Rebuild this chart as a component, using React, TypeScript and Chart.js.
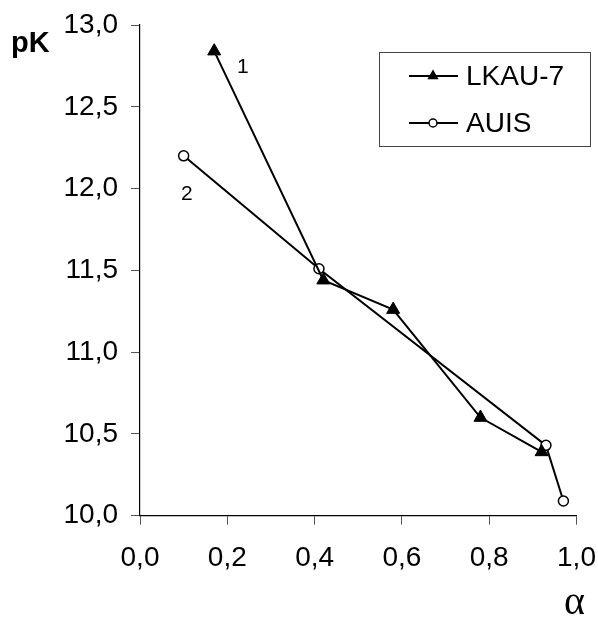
import React, { useEffect, useRef } from "react";
import { Chart, registerables } from "chart.js";

Chart.register(...registerables);

const lkauAlpha = [0.17, 0.42, 0.58, 0.78, 0.92];
const lkauPK = [12.84, 11.44, 11.26, 10.6, 10.39];
const auisAlpha = [0.1, 0.41, 0.93, 0.97];
const auisPK = [12.2, 11.51, 10.43, 10.09];
const xTickValues = [0, 0.2, 0.4, 0.6, 0.8, 1.0];
const seriesNames = ["LKAU-7", "AUIS"];
const curveLabels = ["1", "2"];
const xTitle = "α";
const yTitle = "pK";

const FONT = "'Liberation Sans', Arial, sans-serif";

const fmt = (v: number) => Number(v).toFixed(1).replace(".", ",");

const zeroPad = (s: any) => {
  s.paddingTop = 0;
  s.paddingBottom = 0;
  s.paddingLeft = 0;
  s.paddingRight = 0;
};

const overlayPlugin = {
  id: "overlay",
  afterDraw(chart: any) {
    const ctx = chart.ctx;
    ctx.save();
    ctx.fillStyle = "#000";
    ctx.textBaseline = "alphabetic";
    ctx.textAlign = "left";
    ctx.font = `bold 29px ${FONT}`;
    ctx.fillText(yTitle, 11, 52);
    ctx.font = `40px 'Liberation Serif', 'Times New Roman', serif`;
    ctx.fillText(xTitle, 564, 614);
    ctx.font = `21px ${FONT}`;
    ctx.fillText(curveLabels[0], 237, 73);
    ctx.fillText(curveLabels[1], 181, 200);
    // Legend
    ctx.strokeStyle = "#444";
    ctx.lineWidth = 1;
    ctx.strokeRect(379.5, 52.5, 211, 94);
    const rows = [76, 123];
    chart.data.datasets.forEach((ds: any, i: number) => {
      const y = rows[i];
      ctx.strokeStyle = "#000";
      ctx.lineWidth = 2;
      ctx.beginPath();
      ctx.moveTo(409, y);
      ctx.lineTo(458, y);
      ctx.stroke();
      if (ds.pointStyle === "triangle") {
        const r = 6.5;
        ctx.fillStyle = "#000";
        ctx.beginPath();
        ctx.moveTo(433, y - r);
        ctx.lineTo(433 + r * 0.866, y + r * 0.5);
        ctx.lineTo(433 - r * 0.866, y + r * 0.5);
        ctx.closePath();
        ctx.fill();
      } else {
        ctx.fillStyle = "#fff";
        ctx.lineWidth = 1.5;
        ctx.beginPath();
        ctx.arc(433, y, 4, 0, Math.PI * 2);
        ctx.fill();
        ctx.stroke();
      }
      ctx.fillStyle = "#000";
      ctx.font = `28px ${FONT}`;
      ctx.textBaseline = "middle";
      ctx.fillText(ds.label, 466, y + 1);
      ctx.textBaseline = "alphabetic";
    });
    ctx.restore();
  },
};

export default function App() {
  const ref = useRef<HTMLCanvasElement | null>(null);
  useEffect(() => {
    if (!ref.current) return;
    const chart = new Chart(ref.current, {
      type: "line",
      data: {
        datasets: [
          {
            label: seriesNames[0],
            data: lkauAlpha.map((x, i) => ({ x, y: lkauPK[i] })),
            borderColor: "#000",
            backgroundColor: "#000",
            borderWidth: 2,
            pointStyle: "triangle",
            pointRadius: 7.5,
            pointBorderWidth: 1,
            pointBackgroundColor: "#000",
            pointBorderColor: "#000",
            tension: 0,
          },
          {
            label: seriesNames[1],
            data: auisAlpha.map((x, i) => ({ x, y: auisPK[i] })),
            borderColor: "#000",
            backgroundColor: "#fff",
            borderWidth: 2,
            pointStyle: "circle",
            pointRadius: 5,
            pointBorderWidth: 1.5,
            pointBackgroundColor: "#fff",
            pointBorderColor: "#000",
            tension: 0,
          },
        ],
      },
      options: {
        responsive: false,
        animation: false,
        events: [],
        layout: { padding: { left: 0, top: 25, right: 21.5, bottom: 0 } },
        plugins: {
          legend: { display: false },
          tooltip: { enabled: false },
        },
        scales: {
          x: {
            type: "linear",
            min: 0,
            max: 1,
            afterFit: (s: any) => {
              s.height = 102.3;
              zeroPad(s);
            },
            afterBuildTicks: (s: any) => {
              s.ticks = xTickValues.map((v) => ({ value: v }));
            },
            ticks: {
              color: "#000",
              font: { family: FONT, size: 28 },
              padding: 17,
              maxRotation: 0,
              autoSkip: false,
              callback: (v: any) => fmt(v),
            },
            grid: {
              drawOnChartArea: false,
              drawTicks: true,
              tickLength: 9,
              color: "#555",
            },
            border: { display: true, color: "#000", width: 1.2 },
          },
          y: {
            type: "linear",
            min: 10,
            max: 13,
            afterFit: (s: any) => {
              s.width = 140;
              zeroPad(s);
            },
            ticks: {
              stepSize: 0.5,
              color: "#000",
              font: { family: FONT, size: 28 },
              padding: 13,
              callback: (v: any) => fmt(v),
            },
            grid: {
              drawOnChartArea: false,
              drawTicks: true,
              tickLength: 9,
              color: "#555",
            },
            border: { display: true, color: "#000", width: 1.2 },
          },
        },
      },
      plugins: [overlayPlugin],
    } as any);
    return () => chart.destroy();
  }, []);
  return (
    <div style={{ position: "fixed", left: 0, top: 0, width: 598, height: 618, background: "#fff" }}>
      <canvas ref={ref} width={598} height={618} style={{ display: "block" }} />
    </div>
  );
}
